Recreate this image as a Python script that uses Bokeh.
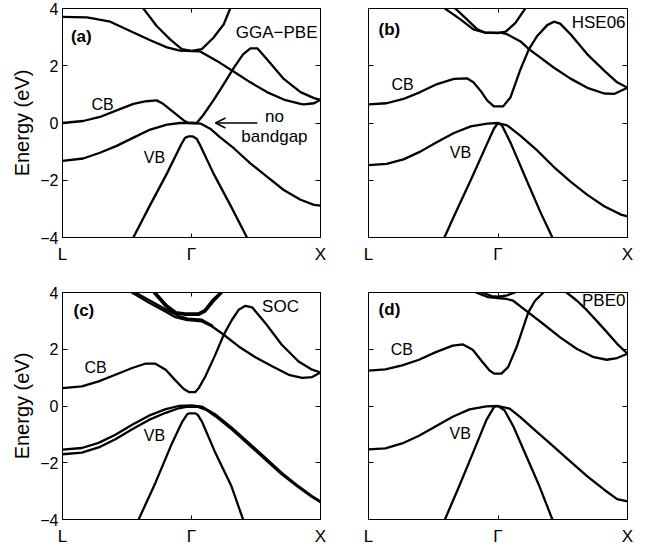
from bokeh.plotting import figure
from bokeh.layouts import column, row
from bokeh.models import FixedTicker, LinearAxis, Range1d, Label, Arrow, OpenHead, CustomJSTickFormatter
from bokeh.embed import file_html
from bokeh.resources import INLINE

NaN = float("nan")

# ---------------- tick labels ----------------
k_ticks = [0, 1, 2]
k_labels = ["L", "Γ", "X"]
e_ticks = [-4, -2, 0, 2, 4]
e_labels = ["−4", "−2", "0", "2", "4"]

# ---------------- (a) GGA-PBE ----------------
a_cb3_k = [0.627, 0.73, 0.834, 0.925, 1.0, 1.08, 1.17, 1.25, 1.30]
a_cb3_e = [4.0, 3.39, 2.92, 2.58, 2.52, 2.58, 2.98, 3.45, 4.0]
a_cb2_k = [0.0, 0.19, 0.37, 0.55, 0.68, 0.81, 0.91, 1.0, 1.067, 1.197, 1.326, 1.456, 1.585, 1.715, 1.845, 1.87, 1.95, 2.0]
a_cb2_e = [3.71, 3.69, 3.54, 3.16, 2.89, 2.64, 2.53, 2.51, 2.50, 2.17, 1.80, 1.42, 1.08, 0.82, 0.67, 0.65, 0.69, 0.81]
a_cb1_k = [0.0, 0.16, 0.29, 0.42, 0.55, 0.65, 0.73, 0.78, 0.86, 0.94, 0.977, 1.04, 1.09, 1.17, 1.25, 1.33, 1.40, 1.456, 1.51, 1.585, 1.715, 1.845, 1.95, 2.0]
a_cb1_e = [0.0, 0.07, 0.21, 0.44, 0.67, 0.76, 0.79, 0.67, 0.38, 0.09, 0.0, 0.0, 0.27, 0.79, 1.36, 1.94, 2.40, 2.61, 2.61, 2.23, 1.54, 1.08, 0.87, 0.81]
a_vb1_k = [0.0, 0.16, 0.29, 0.42, 0.55, 0.68, 0.81, 0.91, 1.0, 1.07, 1.145, 1.22, 1.33, 1.456, 1.585, 1.715, 1.845, 1.95, 2.0]
a_vb1_e = [-1.32, -1.24, -1.04, -0.80, -0.51, -0.23, -0.06, 0.0, 0.0, -0.02, -0.20, -0.49, -0.89, -1.41, -1.87, -2.34, -2.68, -2.86, -2.89]
a_vb2_k = [0.549, 0.68, 0.81, 0.92, 0.95, 0.975, 1.01, 1.04, 1.07, 1.17, 1.30, 1.43]
a_vb2_e = [-4.0, -2.86, -1.76, -0.75, -0.52, -0.47, -0.47, -0.55, -0.80, -1.76, -2.86, -4.0]

# ---------------- (b) HSE06 ----------------
b_cb3_k = [0.67, 0.76, 0.84, 0.90, 1.0, 1.06, 1.135, 1.21]
b_cb3_e = [4.0, 3.62, 3.27, 3.16, 3.14, 3.19, 3.50, 4.0]
b_cb2_k = [0.59, 0.71, 0.81, 0.90, 1.02, 1.07, 1.174, 1.239, 1.43, 1.56, 1.69, 1.82, 1.90, 2.0]
b_cb2_e = [4.0, 3.62, 3.27, 3.16, 3.16, 3.10, 2.85, 2.58, 1.94, 1.55, 1.23, 1.03, 1.02, 1.23]
b_cb1_k = [0.0, 0.14, 0.27, 0.40, 0.53, 0.66, 0.76, 0.81, 0.865, 0.916, 0.968, 1.04, 1.097, 1.174, 1.239, 1.303, 1.38, 1.432, 1.48, 1.56, 1.69, 1.82, 1.92, 2.0]
b_cb1_e = [0.65, 0.69, 0.84, 1.08, 1.36, 1.54, 1.56, 1.42, 1.13, 0.79, 0.58, 0.58, 0.90, 1.88, 2.58, 3.04, 3.42, 3.54, 3.47, 3.10, 2.40, 1.83, 1.42, 1.23]
b_vb1_k = [0.0, 0.14, 0.27, 0.40, 0.53, 0.66, 0.79, 0.916, 1.0, 1.07, 1.17, 1.30, 1.43, 1.56, 1.69, 1.82, 1.95, 2.0]
b_vb1_e = [-1.47, -1.43, -1.27, -1.0, -0.66, -0.35, -0.12, -0.02, 0.0, -0.08, -0.43, -0.95, -1.53, -2.05, -2.51, -2.91, -3.20, -3.26]
b_vb2_k = [0.586, 0.66, 0.79, 0.916, 0.968, 1.0, 1.03, 1.10, 1.226, 1.33, 1.42]
b_vb2_e = [-4.0, -3.26, -1.99, -0.72, -0.20, 0.0, -0.08, -0.72, -2.05, -3.14, -4.0]

# ---------------- (c) SOC ----------------
c_cb3_k = [0.706, 0.80, 0.87, 0.95, 1.055, 1.107, 1.17, 1.237]
c_cb3_e = [4.0, 3.51, 3.27, 3.21, 3.21, 3.33, 3.68, 4.0]
c_cb3s_k = [0.72, 0.81, 0.88, 0.95, 1.05, 1.10, 1.16, 1.225]
c_cb3s_e = [4.0, 3.54, 3.31, 3.26, 3.26, 3.37, 3.72, 4.0]
c_cb2_k = [0.538, 0.668, 0.797, 0.875, 0.952, 1.081, 1.16, 1.25, 1.366, 1.495, 1.625, 1.754, 1.858, 1.935, 2.0]
c_cb2_e = [4.0, 3.65, 3.33, 3.13, 3.04, 2.98, 2.80, 2.51, 2.10, 1.72, 1.40, 1.10, 0.99, 1.02, 1.18]
c_cb2s_k = [0.565, 0.69, 0.82, 0.90, 0.97, 1.08, 1.16]
c_cb2s_e = [4.0, 3.68, 3.36, 3.17, 3.08, 3.04, 2.84]
c_cb1_k = [0.0, 0.15, 0.28, 0.41, 0.54, 0.64, 0.72, 0.80, 0.87, 0.94, 0.98, 1.03, 1.056, 1.107, 1.185, 1.25, 1.314, 1.366, 1.418, 1.47, 1.573, 1.70, 1.83, 1.935, 2.0]
c_cb1_e = [0.63, 0.69, 0.87, 1.10, 1.34, 1.49, 1.49, 1.28, 0.93, 0.60, 0.49, 0.49, 0.63, 1.04, 1.81, 2.51, 3.04, 3.39, 3.53, 3.48, 2.92, 2.16, 1.57, 1.28, 1.18]
c_vb1_k = [0.0, 0.15, 0.28, 0.41, 0.54, 0.67, 0.80, 0.90, 1.0, 1.08, 1.185, 1.314, 1.444, 1.573, 1.70, 1.83, 1.935, 2.0]
c_vb1_e = [-1.54, -1.48, -1.30, -1.01, -0.66, -0.34, -0.11, 0.0, 0.02, -0.02, -0.30, -0.77, -1.30, -1.83, -2.36, -2.83, -3.18, -3.36]
c_vb1s_k = [0.0, 0.15, 0.28, 0.41, 0.54, 0.67, 0.80, 0.90, 0.97, 1.05, 1.12, 1.185, 1.314, 1.444, 1.573, 1.70, 1.83, 1.935, 2.0]
c_vb1s_e = [-1.70, -1.64, -1.46, -1.17, -0.82, -0.49, -0.24, -0.08, -0.02, -0.03, -0.15, -0.36, -0.83, -1.36, -1.89, -2.41, -2.87, -3.21, -3.39]
c_vb2_k = [0.59, 0.72, 0.85, 0.93, 0.965, 0.98, 1.03, 1.05, 1.08, 1.18, 1.31, 1.40]
c_vb2_e = [-4.0, -2.71, -1.30, -0.54, -0.30, -0.26, -0.26, -0.32, -0.54, -1.60, -2.83, -4.0]

# ---------------- (d) PBE0 ----------------
d_cb3_k = [0.88, 0.95, 1.0, 1.07, 1.13]
d_cb3_e = [4.0, 3.87, 3.85, 3.90, 4.0]
d_cb2_k = [0.83, 0.92, 1.0, 1.06, 1.117, 1.234, 1.35, 1.48, 1.61, 1.74, 1.84, 1.92, 2.0]
d_cb2_e = [4.0, 3.84, 3.80, 3.78, 3.71, 3.30, 2.89, 2.42, 2.01, 1.72, 1.63, 1.69, 1.84]
d_cb1_k = [0.0, 0.13, 0.26, 0.39, 0.52, 0.65, 0.73, 0.805, 0.88, 0.935, 0.97, 1.026, 1.078, 1.143, 1.195, 1.234, 1.286, 1.351, NaN, 1.53, 1.61, 1.69, 1.82, 1.92, 2.0]
d_cb1_e = [1.25, 1.29, 1.43, 1.63, 1.90, 2.13, 2.17, 1.98, 1.55, 1.25, 1.14, 1.14, 1.37, 2.07, 2.77, 3.30, 3.71, 4.0, NaN, 4.0, 3.71, 3.36, 2.71, 2.19, 1.84]
d_vb1_k = [0.0, 0.13, 0.26, 0.39, 0.52, 0.65, 0.78, 0.91, 1.0, 1.09, 1.17, 1.30, 1.43, 1.56, 1.69, 1.82, 1.92, 2.0]
d_vb1_e = [-1.53, -1.49, -1.32, -1.05, -0.71, -0.38, -0.12, -0.01, 0.0, -0.09, -0.38, -0.91, -1.43, -1.96, -2.48, -2.95, -3.28, -3.36]
d_vb2_k = [0.59, 0.70, 0.805, 0.91, 0.97, 1.0, 1.05, 1.12, 1.22, 1.32, 1.42]
d_vb2_e = [-4.0, -2.83, -1.67, -0.50, -0.03, 0.0, -0.15, -0.73, -1.78, -2.83, -4.0]

FONT = "Liberation Sans"


def blank():
    return CustomJSTickFormatter(code="return ''")


def make_panel(w, h, bl, br, bt, bb, with_ylabels):
    p = figure(width=w, height=h, x_range=Range1d(0, 2), y_range=Range1d(-4, 4),
               output_backend="svg", toolbar_location=None,
               min_border_left=bl, min_border_right=br,
               min_border_top=bt, min_border_bottom=bb)
    p.grid.visible = False
    p.outline_line_color = "black"
    p.outline_line_width = 1
    p.background_fill_color = "white"
    p.border_fill_color = "white"

    xa = p.xaxis[0]
    xa.ticker = FixedTicker(ticks=k_ticks)
    xa.major_label_overrides = {t: s for t, s in zip(k_ticks, k_labels)}
    xa.major_label_text_font = FONT
    xa.major_label_text_font_size = "17px"
    xa.major_label_text_color = "black"
    xa.major_label_standoff = 7
    xa.major_tick_in = 4
    xa.major_tick_out = 0
    xa.minor_tick_line_color = None
    xa.axis_line_color = "black"

    ya = p.yaxis[0]
    ya.ticker = FixedTicker(ticks=e_ticks)
    ya.major_tick_in = 5
    ya.major_tick_out = 0
    ya.minor_tick_line_color = None
    ya.axis_line_color = "black"
    if with_ylabels:
        ya.major_label_overrides = {t: s for t, s in zip(e_ticks, e_labels)}
        ya.major_label_text_font = FONT
        ya.major_label_text_font_size = "16px"
        ya.major_label_text_color = "black"
        ya.major_label_standoff = 4
        ya.axis_label = "Energy (eV)"
        ya.axis_label_text_font = FONT
        ya.axis_label_text_font_size = "20px"
        ya.axis_label_text_font_style = "normal"
        ya.axis_label_text_color = "black"
        ya.axis_label_standoff = 4
    else:
        ya.formatter = blank()
        ya.major_label_standoff = 0

    ra = LinearAxis(ticker=FixedTicker(ticks=e_ticks), formatter=blank(),
                    major_label_standoff=0, major_tick_in=5, major_tick_out=0,
                    minor_tick_line_color=None, axis_line_color="black")
    p.add_layout(ra, "right")
    ta = LinearAxis(ticker=FixedTicker(ticks=[k_ticks[1]]), formatter=blank(),
                    major_label_standoff=0, major_tick_in=4, major_tick_out=0,
                    minor_tick_line_color=None, axis_line_color="black")
    p.add_layout(ta, "above")
    return p


def band(p, k, e):
    p.line(k, e, line_color="black", line_width=2.3, line_cap="round", line_join="round")


def lab(p, x, y, text, align="center", bold=False, size="16px"):
    p.add_layout(Label(x=x, y=y, text=text, text_font=FONT, text_font_size=size,
                       text_font_style="bold" if bold else "normal", text_color="black",
                       text_align=align, text_baseline="middle"))


# frames: top row y 8-237, bottom row y 292-521; left column x 62-320, right column x 368-627
pa = make_panel(340, 266, 62, 20, 8, 29, True)
pb = make_panel(310, 266, 28, 23, 8, 29, False)
pc = make_panel(340, 282, 62, 20, 26, 27, True)
pd = make_panel(310, 282, 28, 23, 26, 27, False)

for kk, ee in [(a_cb3_k, a_cb3_e), (a_cb2_k, a_cb2_e), (a_cb1_k, a_cb1_e), (a_vb1_k, a_vb1_e), (a_vb2_k, a_vb2_e)]:
    band(pa, kk, ee)
for kk, ee in [(b_cb3_k, b_cb3_e), (b_cb2_k, b_cb2_e), (b_cb1_k, b_cb1_e), (b_vb1_k, b_vb1_e), (b_vb2_k, b_vb2_e)]:
    band(pb, kk, ee)
for kk, ee in [(c_cb3_k, c_cb3_e), (c_cb3s_k, c_cb3s_e), (c_cb2_k, c_cb2_e), (c_cb2s_k, c_cb2s_e),
               (c_cb1_k, c_cb1_e), (c_vb1_k, c_vb1_e), (c_vb1s_k, c_vb1s_e), (c_vb2_k, c_vb2_e)]:
    band(pc, kk, ee)
for kk, ee in [(d_cb3_k, d_cb3_e), (d_cb2_k, d_cb2_e), (d_cb1_k, d_cb1_e), (d_vb1_k, d_vb1_e), (d_vb2_k, d_vb2_e)]:
    band(pd, kk, ee)

# panel annotations
lab(pa, 0.065, 3.03, "(a)", "left", True, "17px")
lab(pa, 1.977, 3.15, "GGA−PBE", "right", size="17px")
lab(pa, 0.31, 0.64, "CB")
lab(pa, 0.713, -1.19, "VB")
lab(pa, 1.643, 0.23, "no", size="17px")
lab(pa, 1.643, -0.48, "bandgap", size="17px")
pa.add_layout(Arrow(end=OpenHead(size=10, line_width=1.6, line_color="black"),
                    x_start=1.51, y_start=0.0, x_end=1.186, y_end=0.0,
                    line_width=1.6, line_color="black"))

lab(pb, 0.077, 3.27, "(b)", "left", True, "17px")
lab(pb, 1.985, 3.51, "HSE06", "right", size="17px")
lab(pb, 0.263, 1.33, "CB")
lab(pb, 0.71, -1.02, "VB")

lab(pc, 0.085, 3.37, "(c)", "left", True, "17px")
lab(pc, 1.69, 3.49, "SOC", size="17px")
lab(pc, 0.256, 1.36, "CB")
lab(pc, 0.713, -1.04, "VB")

lab(pd, 0.078, 3.39, "(d)", "left", True, "17px")
lab(pd, 1.984, 3.72, "PBE0", "right", size="17px")
lab(pd, 0.257, 2.0, "CB")
lab(pd, 0.708, -0.98, "VB")

layout = column(row(pa, pb), row(pc, pd))
open("out.html", "w").write(file_html(layout, INLINE))
